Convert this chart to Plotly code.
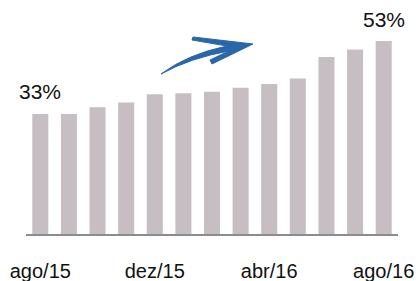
import plotly.graph_objects as go

months = ["ago/15", "set/15", "out/15", "nov/15", "dez/15", "jan/16", "fev/16",
          "mar/16", "abr/16", "mai/16", "jun/16", "jul/16", "ago/16"]
values = [33, 33, 34.8, 36.1, 38.4, 38.7, 39.1, 40.2, 41.2, 42.7, 48.6, 50.7, 53]
tick_labels = ["ago/15", "dez/15", "abr/16", "ago/16"]
labelled = [0, 12]

W, H = 416, 281
L, R, T, B = 26, 18, 0, 47
pw, ph = W - L - R, H - T - B
px_per_unit = 3.64

def P(x, y):
    # window pixel -> paper coords
    return (x - L) / pw, (H - B - y) / ph

def path(cmds):
    out = []
    for c in cmds:
        if isinstance(c, str):
            out.append(c)
        else:
            a, b = P(*c)
            out.append(f"{a:.4f},{b:.4f}")
    return " ".join(out)

idx = list(range(len(months)))
fig = go.Figure(go.Bar(x=idx, y=values, marker_color="#C6BEC3",
                       marker_line_width=0, width=0.56, hoverinfo="skip"))

for i in labelled:
    fig.add_annotation(x=idx[i], y=values[i], text=f"{values[i]:.0f}%",
                       showarrow=False, yshift=22, yanchor="middle",
                       font=dict(size=21, color="#111111"))

arrow = path(["M", (161, 74), "Q", (190, 58), (229, 51), "L", (210, 60),
              "L", (212, 64), "L", (253, 44), "L", (193, 37), "L", (192, 40),
              "L", (227, 46), "Q", (188, 54), (161, 74), "Z"])
fig.add_shape(type="path", path=arrow, xref="paper", yref="paper",
              fillcolor="#2A66AA", line=dict(color="#2A66AA", width=1))

fig.update_layout(
    width=W, height=H, margin=dict(l=L, r=R, t=T, b=B),
    paper_bgcolor="white", plot_bgcolor="white", showlegend=False,
    font=dict(family="Arial, Liberation Sans, sans-serif", color="#111111"),
    xaxis=dict(range=[-0.5, 12.5], tickvals=[0, 4, 8, 12], ticktext=tick_labels,
               showgrid=False, zeroline=False, showline=True, linecolor="#8C8C8C",
               linewidth=1.5, ticks="", ticklabelstandoff=18,
               ticklabeloverflow="allow",
               tickfont=dict(size=20, color="#111111")),
    yaxis=dict(range=[0, ph / px_per_unit], visible=False, showgrid=False,
               zeroline=False),
)
fig.write_html(
    "out.html",
    config={"displayModeBar": False},
    post_script="document.documentElement.style.margin='0';"
                "document.body.style.margin='0';"
                "document.body.style.overflow='hidden';",
)
